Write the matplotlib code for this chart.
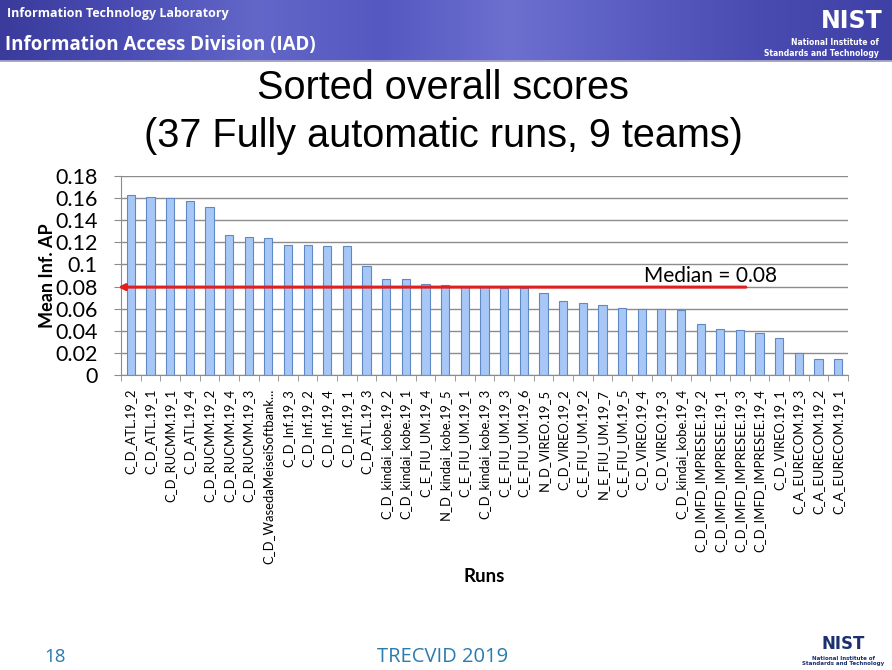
import numpy as np
import matplotlib.pyplot as plt
from matplotlib.colors import LinearSegmentedColormap

runs = ['C_D_ATL.19_2', 'C_D_ATL.19_1', 'C_D_RUCMM.19_1', 'C_D_ATL.19_4',
        'C_D_RUCMM.19_2', 'C_D_RUCMM.19_4', 'C_D_RUCMM.19_3',
        'C_D_WasedaMeiseiSoftbank...', 'C_D_Inf.19_3', 'C_D_Inf.19_2',
        'C_D_Inf.19_4', 'C_D_Inf.19_1', 'C_D_ATL.19_3',
        'C_D_kindai_kobe.19_2', 'C_D_kindai_kobe.19_1', 'C_E_FIU_UM.19_4',
        'N_D_kindai_kobe.19_5', 'C_E_FIU_UM.19_1', 'C_D_kindai_kobe.19_3',
        'C_E_FIU_UM.19_3', 'C_E_FIU_UM.19_6', 'N_D_VIREO.19_5',
        'C_D_VIREO.19_2', 'C_E_FIU_UM.19_2', 'N_E_FIU_UM.19_7',
        'C_E_FIU_UM.19_5', 'C_D_VIREO.19_4', 'C_D_VIREO.19_3',
        'C_D_kindai_kobe.19_4', 'C_D_IMFD_IMPRESEE.19_2',
        'C_D_IMFD_IMPRESEE.19_1', 'C_D_IMFD_IMPRESEE.19_3',
        'C_D_IMFD_IMPRESEE.19_4', 'C_D_VIREO.19_1', 'C_A_EURECOM.19_3',
        'C_A_EURECOM.19_2', 'C_A_EURECOM.19_1']
scores = [0.163, 0.161, 0.160, 0.1575, 0.152, 0.127, 0.125, 0.1236,
          0.118, 0.118, 0.1167, 0.1167, 0.099, 0.087, 0.087, 0.0827,
          0.0815, 0.0797, 0.0795, 0.0790, 0.0788, 0.0745, 0.0667, 0.0655,
          0.0633, 0.0609, 0.0597, 0.0597, 0.0588, 0.0461, 0.0415, 0.0403,
          0.0382, 0.0333, 0.0197, 0.0142, 0.0142]
yticks = [0, 0.02, 0.04, 0.06, 0.08, 0.1, 0.12, 0.14, 0.16, 0.18]
ytick_labels = ['0', '0.02', '0.04', '0.06', '0.08', '0.1', '0.12', '0.14', '0.16', '0.18']
median = 0.0795

fig = plt.figure(figsize=(8.92, 6.7), dpi=100)
fig.patch.set_facecolor('white')

# header band
hdr = fig.add_axes([0, 1 - 62 / 670, 1, 62 / 670])
cmap = LinearSegmentedColormap.from_list(
    'hdr', ['#3a3b9c', '#4b4db4', '#6367c8', '#5558c0', '#6d70cf', '#5a5cc2', '#4a4bb0', '#3f41a6'])
hdr.imshow(np.linspace(0, 1, 300)[None, :], aspect='auto', cmap=cmap, extent=[0, 1, 0, 1])
hdr.axis('off')
hdr.axhline(0.02, color='#a8a8c8', lw=2)
hdr.text(0.008, 0.78, 'Information Technology Laboratory', color='white',
         fontsize=9, fontweight='bold', family='Open Sans', va='center')
hdr.text(0.006, 0.27, 'Information Access Division (IAD)', color='white',
         fontsize=13.5, fontweight='bold', family='Open Sans', va='center')
hdr.text(0.955, 0.66, 'NIST', color='white', fontsize=17, fontweight='bold',
         family='DejaVu Sans', ha='center', va='center')
hdr.text(0.985, 0.32, 'National Institute of', color='white', fontsize=5.5,
         fontweight='bold', ha='right', va='center')
hdr.text(0.985, 0.14, 'Standards and Technology', color='white', fontsize=5.5,
         fontweight='bold', ha='right', va='center')

# titles
fig.text(443 / 892, 1 - 88 / 670, 'Sorted overall scores', ha='center', va='center',
         fontsize=28.5, family='Liberation Sans')
fig.text(443 / 892, 1 - 136 / 670, '(37 Fully automatic runs, 9 teams)', ha='center',
         va='center', fontsize=28.5, family='Liberation Sans')

# chart
ax = fig.add_axes([121 / 892, 1 - 375 / 670, (848 - 121) / 892, (375 - 176) / 670])
x = np.arange(len(runs))
ax.set_axisbelow(True)
ax.yaxis.grid(True, color='#8c8c8c', lw=1)
ax.bar(x, scores, width=0.42, color='#a7c8f6', edgecolor='#5f88c4', linewidth=0.8)
ax.set_xlim(-0.5, len(runs) - 0.5)
ax.set_ylim(0, 0.18)
ax.set_yticks(yticks)
ax.set_yticklabels(ytick_labels, family='Lato', fontsize=15.5)
ax.set_xticks(x)
ax.set_xticklabels(runs, rotation=90, family='Lato', fontsize=9.4)
ax.set_xticks(np.arange(-0.5, len(runs), 1), minor=True)
ax.tick_params(axis='x', which='major', length=0, pad=10)
ax.tick_params(axis='x', which='minor', length=4, color='#8c8c8c')
ax.tick_params(axis='y', length=5, color='#8c8c8c', pad=12)
for s in ['top', 'right']:
    ax.spines[s].set_visible(False)
for s in ['left', 'bottom']:
    ax.spines[s].set_color('#8c8c8c')
ax.set_ylabel('Mean Inf. AP', family='Lato', fontweight='bold', fontsize=13, labelpad=-1)
ax.set_xlabel('Runs', family='Lato', fontweight='bold', fontsize=13.5, labelpad=3)

ax.annotate('', xy=(-0.65, median), xytext=(31.3, median),
            arrowprops=dict(arrowstyle='-|>', color='#e02020', lw=2.2,
                            mutation_scale=9, shrinkA=0, shrinkB=0),
            annotation_clip=False)
ax.text(29.5, median + 0.0012, 'Median = 0.08', family='Lato', fontsize=15,
        ha='center', va='bottom')

# footer
fig.text(55 / 892, 1 - 657 / 670, '18', color='#2a7bb0', fontsize=13.5,
         family='Open Sans', ha='center', va='center')
fig.text(443 / 892, 1 - 657 / 670, 'TRECVID 2019', color='#2a7bb0', fontsize=14.5,
         family='Open Sans', ha='center', va='center')
fig.text(843 / 892, 1 - 644 / 670, 'NIST', color='#1c2f6e', fontsize=12,
         fontweight='bold', ha='center', va='center')
fig.text(843 / 892, 1 - 658 / 670, 'National Institute of', color='#1c2f6e',
         fontsize=4, fontweight='bold', ha='center', va='center')
fig.text(843 / 892, 1 - 664 / 670, 'Standards and Technology', color='#1c2f6e',
         fontsize=4, fontweight='bold', ha='center', va='center')

fig.savefig('out.png', dpi=100)
